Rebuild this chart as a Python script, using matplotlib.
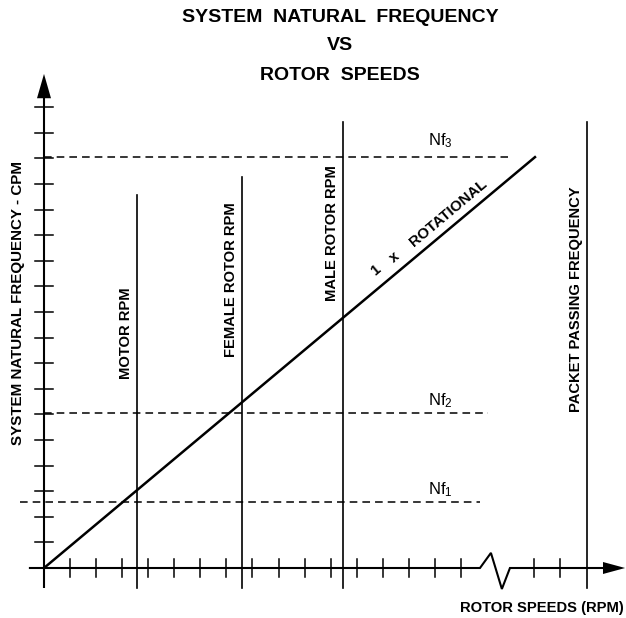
import matplotlib
matplotlib.use("Agg")
import matplotlib.pyplot as plt

plt.rcParams['font.family'] = ['Liberation Sans', 'DejaVu Sans']
plt.rcParams['mathtext.fontset'] = 'custom'
plt.rcParams['mathtext.rm'] = 'Liberation Sans'
plt.rcParams['mathtext.it'] = 'Liberation Sans'

# ---- data (axis units: one tick = one unit) ----
x_ticks = [1, 2, 3, 4, 5, 6, 7, 8, 9, 10, 11, 12, 13, 14, 15, 16, 18.8, 19.8]
y_ticks = list(range(1, 19))

speed_names = ["MOTOR RPM", "FEMALE ROTOR RPM", "MALE ROTOR RPM", "PACKET PASSING FREQUENCY"]
speed_x = [3.57, 7.59, 11.49, 20.84]
speed_top = [14.57, 15.27, 17.42, 17.42]
speed_label_y = [9.18, 11.25, 13.1, 10.5]

nf_names = ["Nf$_1$", "Nf$_2$", "Nf$_3$"]
nf_levels = [2.58, 6.07, 16.05]
nf_start = [-0.92, 0.0, 0.0]
nf_end = [16.73, 17.04, 17.8]

rot_x = [0.0, 18.84]
rot_y = [0.0, 16.05]

# ---- figure ----
W, H = 626, 618
fig = plt.figure(figsize=(W / 100, H / 100), dpi=100)
ax = fig.add_axes([0, 0, 1, 1])
ux, uy = 26.06, 25.6  # pixels per unit
ox, oy = 44, 568
ax.set_xlim(-ox / ux, (W - ox) / ux)
ax.set_ylim(-(H - oy) / uy, oy / uy)
ax.axis('off')

k = 'black'
LW = 'bold'
FS = 10.6
# y axis
ax.plot([0, 0], [-0.78, 18.4], color=k, lw=1.5, solid_capstyle='butt')
ax.fill([-7 / ux, 7 / ux, 0], [18.35, 18.35, 19.3], color=k, lw=0)
# x axis with break
brk = [16.73, 17.15, 17.57, 17.88]
ax.plot([-0.54, brk[0], brk[1], brk[2], brk[3], 21.6],
        [0, 0, 0.59, -0.82, 0, 0], color=k, lw=1.5, solid_joinstyle='miter')
ax.fill([21.45, 21.45, 22.3], [6 / uy, -6 / uy, 0], color=k, lw=0)

th = 9 / 25.6
for xt in x_ticks:
    ax.plot([xt, xt], [-th, th], color=k, lw=1.1)
for yt in y_ticks:
    ax.plot([-9 / ux, 9 / ux], [yt, yt], color=k, lw=1.1)

# vertical speed lines
for name, xs, top, ly in zip(speed_names, speed_x, speed_top, speed_label_y):
    ax.plot([xs, xs], [-0.8, top], color=k, lw=1.2)
    ax.text(xs - 0.43, ly, name, rotation=90, ha='center', va='center',
            fontsize=FS, fontweight=LW, color=k)

# natural frequency dashed lines
for name, lv, s, e in zip(nf_names, nf_levels, nf_start, nf_end):
    ax.plot([s, e], [lv, lv], color=k, lw=1.1, dashes=(5, 3.3))
    off = 0.47 if lv > 10 else 0.3
    ax.text(14.74, lv + off, name, fontsize=12, ha='left', va='baseline', color=k)

# 1 x rotational line
ax.plot(rot_x, rot_y, color=k, lw=1.8)
ax.text((376 - ox) / ux, (oy - 270) / uy, "1", rotation=40, ha='center', va='center',
        fontsize=FS, fontweight=LW)
ax.text((394 - ox) / ux, (oy - 257) / uy, "x", rotation=40, ha='center', va='center',
        fontsize=FS, fontweight=LW)
ax.text((448 - ox) / ux, (oy - 213) / uy, "ROTATIONAL", rotation=40, ha='center', va='center',
        fontsize=FS + 0.3, fontweight=LW)

# axis labels
ax.text((18 - ox) / ux, (oy - 303) / uy, "SYSTEM NATURAL FREQUENCY - CPM", rotation=90,
        ha='center', va='center', fontsize=10.9, fontweight=LW)
ax.text((624 - ox) / ux, (oy - 608) / uy, "ROTOR SPEEDS (RPM)", ha='right', va='center',
        fontsize=FS, fontweight=LW)

# title
for txt, py in zip(["SYSTEM  NATURAL  FREQUENCY", "VS", "ROTOR  SPEEDS"], [18, 46, 75]):
    fig.text(340 / W, 1 - py / H, txt, ha='center', va='center', fontsize=14,
             fontweight='bold')

fig.savefig("out.png", dpi=100)
